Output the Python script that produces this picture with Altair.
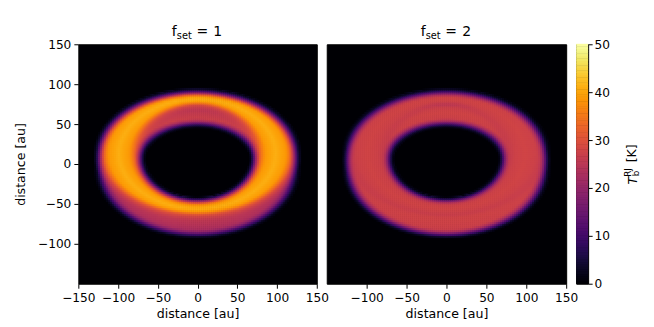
import numpy as np
import pandas as pd
import altair as alt

# ---------------- values ----------------
X_TICKS = {"1": [-150, -100, -50, 0, 50, 100, 150], "2": [-100, -50, 0, 50, 100, 150]}
Y_TICKS = [-100, -50, 0, 50, 100, 150]
CB_TICKS = [0, 10, 20, 30, 40, 50]
T_MIN, T_MAX = 0, 50
EXTENT = [-150, 150]

PANELS = ["1", "2"]

# ellipses (y-centre, semi-major, semi-minor) in au, half-brightness edges
# upper (surface) layer
UP_INNER = [13.0, 75, 60]
UP_OUTER = [13.0, 122, 77]
# lower (base) layer
LO_INNER = [2.0, 75, 49]
LO_OUTER = [-5.0, 122, 83]
# edge softness (au) at top/bottom and at the sides
EDGE_W = [6.0, 9.0]
EDGE_U = [-1.0, -0.5, 0.0, 0.5, 1.0]
EDGE_F = [0.0, 0.15, 0.5, 0.85, 1.0]
# brightness temperature (K) across the ring, inner -> outer
PROF_T = [0.0, 0.25, 0.5, 0.75, 1.0]
PROF_UPPER = {"1": [33, 39, 41, 39, 33], "2": [26, 27.5, 28, 27.5, 26]}
PROF_LOWER = {"1": [27, 27, 26, 24, 21], "2": [26, 27.5, 28, 27.5, 26]}

CELL = 2.5
OVERLAP = 0.35

# ---------------- build image tables ----------------
centers = np.arange(EXTENT[0] + CELL / 2, EXTENT[1], CELL)
XX, YY = np.meshgrid(centers, centers)


def ellipse_dist(ell):
    """signed radial distance of every cell outside the ellipse, and the edge width"""
    yc, a, b = ell
    yp = YY - yc
    rho = np.hypot(XX, yp)
    phi = np.arctan2(yp, XX)
    r = a * b / np.sqrt((b * np.cos(phi)) ** 2 + (a * np.sin(phi)) ** 2)
    w = EDGE_W[0] + (EDGE_W[1] - EDGE_W[0]) * np.cos(phi) ** 2
    return rho - r, w


def layer(inner, outer, prof):
    din, win = ellipse_dist(inner)
    dout, wout = ellipse_dist(outer)
    dout = -dout
    t = np.clip(din / np.maximum(din + dout, 1e-6), 0, 1)
    core = np.interp(t, PROF_T, prof)
    f = np.interp(din / win, EDGE_U, EDGE_F) * np.interp(dout / wout, EDGE_U, EDGE_F)
    return core, f


def panel_table(p):
    cu, fu = layer(UP_INNER, UP_OUTER, PROF_UPPER[p])
    cl, fl = layer(LO_INNER, LO_OUTER, PROF_LOWER[p])
    v = fu * cu + (1 - fu) * fl * cl
    m = v > 0.4
    h = CELL / 2 + OVERLAP
    return pd.DataFrame({
        "x0": XX[m] - h, "x1": XX[m] + h,
        "y0": YY[m] - h, "y1": YY[m] + h,
        "v": np.round(v[m], 1),
    })


cb_lo = np.arange(T_MIN, T_MAX, 0.5)
cb_df = pd.DataFrame({"lo": cb_lo, "hi": cb_lo + 0.6, "v": cb_lo + 0.25})

# ---------------- chart ----------------
FONT = "DejaVu Sans"
cscale = alt.Scale(scheme="inferno", domain=[T_MIN, T_MAX])
pos_scale = alt.Scale(domain=EXTENT, nice=False, zero=False)
H = 240


def txt(s, x, y, size, angle=0, style="normal", align="left", baseline="alphabetic"):
    return alt.Chart(pd.DataFrame({"t": [s]})).mark_text(
        fontSize=size, angle=angle, fontStyle=style, align=align,
        baseline=baseline, color="black", font=FONT
    ).encode(text="t:N", x=alt.value(x), y=alt.value(y))


def panel(p, width, show_y):
    df = panel_table(p)
    xaxis = alt.Axis(values=X_TICKS[p], title="distance [au]", format="d", labelFlush=False,
                     labelOverlap=False, titlePadding=4)
    yaxis = alt.Axis(values=Y_TICKS, title="distance [au]", format="d", labelFlush=False,
                     labelOverlap=False, titlePadding=10) if show_y else None
    heat = alt.Chart(df).mark_rect(strokeWidth=0).encode(
        x=alt.X("x0:Q", scale=pos_scale, axis=xaxis),
        x2="x1:Q",
        y=alt.Y("y0:Q", scale=pos_scale, axis=yaxis),
        y2="y1:Q",
        color=alt.Color("v:Q", scale=cscale, legend=None),
    )
    cx = width / 2
    title = [
        txt("f", cx - 25.8, -8.3, 14),
        txt("set", cx - 20.8, -5.3, 9.8),
        txt("=", cx + 4.7, -8.3, 14, align="center"),
        txt(p, cx + 20.2, -8.3, 14, align="center"),
    ]
    return alt.layer(heat, *title).properties(width=width, height=H)


left = panel("1", 239, True)
right = panel("2", 240, False)

cbar_rect = alt.Chart(cb_df).mark_rect(strokeWidth=0).encode(
    x=alt.value(0), x2=alt.value(12),
    y=alt.Y("lo:Q", scale=alt.Scale(domain=[T_MIN, T_MAX], nice=False, zero=False),
            axis=alt.Axis(values=CB_TICKS, orient="right", title=None, tickSize=4,
                          labelPadding=2, labelFlush=False, labelOverlap=False)),
    y2="hi:Q",
    color=alt.Color("v:Q", scale=cscale, legend=None),
)
cb_title = [
    txt("T", 56.8, 136.8, 12.6, angle=270, style="italic", align="center", baseline="middle"),
    txt("b", 59.5, 129.5, 8.8, angle=270, align="center", baseline="middle"),
    txt("RJ", 51.5, 128.5, 8.8, angle=270, align="center", baseline="middle"),
    txt("[K]", 56.0, 109.3, 12.6, angle=270, align="center", baseline="middle"),
]
cbar = alt.layer(cbar_rect, *cb_title).properties(width=12, height=H)

chart = alt.hconcat(left, right, cbar, spacing=10, bounds="flush").properties(
    padding={"left": 5.5, "top": 16, "right": 5, "bottom": 0}
).configure(font=FONT).configure_view(
    stroke="black", strokeWidth=1, fill="#000004"
).configure_axis(
    labelFontSize=12.2, titleFontSize=12.6, titleFontWeight="normal",
    labelColor="black", titleColor="black", tickColor="black",
    tickWidth=1, tickSize=4.5, labelPadding=3, grid=False, domain=False,
    labelFont=FONT, titleFont=FONT,
)

chart.save("out.html", embed_options={"renderer": "svg", "actions": False})
